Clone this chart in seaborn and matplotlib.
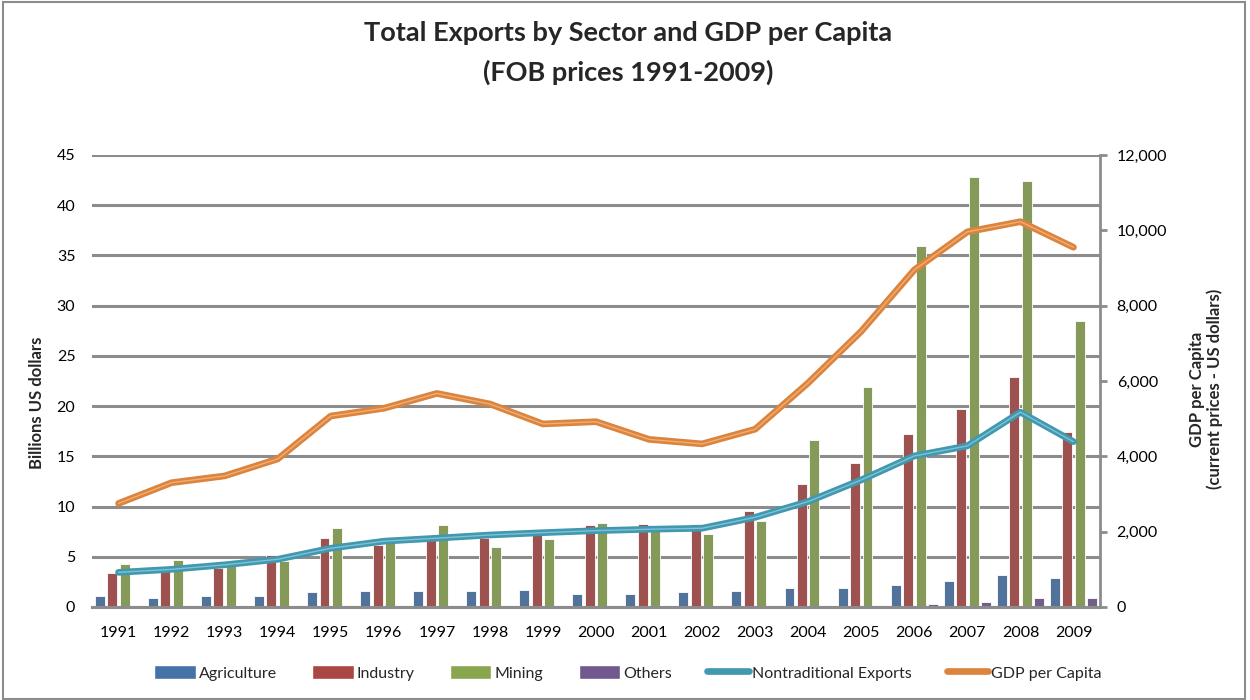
import numpy as np
import pandas as pd
import matplotlib
matplotlib.use("Agg")
import matplotlib.pyplot as plt
import matplotlib.patheffects as pe
from matplotlib.patches import Patch, Rectangle
from matplotlib.lines import Line2D
from matplotlib.ticker import StrMethodFormatter, MultipleLocator
import seaborn as sns

years = [str(y) for y in range(1991, 2010)]
agriculture = [1.1, 0.87, 1.1, 1.1, 1.45, 1.6, 1.6, 1.6, 1.72, 1.3, 1.3, 1.45,
               1.6, 1.86, 1.86, 2.16, 2.6, 3.16, 2.86]
industry = [3.43, 4.0, 3.9, 5.15, 6.85, 6.2, 7.05, 6.85, 7.25, 8.15, 8.3, 8.3,
            9.6, 12.2, 14.35, 17.2, 19.75, 22.9, 17.45]
mining = [4.3, 4.7, 4.1, 4.6, 7.87, 7.0, 8.15, 6.0, 6.74, 8.33, 7.7, 7.3,
          8.6, 16.6, 21.9, 35.95, 42.8, 42.4, 28.5]
others = [0.05, 0.05, 0.05, 0.05, 0.05, 0.05, 0.05, 0.05, 0.05, 0.05, 0.05, 0.05,
          0.05, 0.05, 0.05, 0.3, 0.47, 0.87, 0.87]
nontraditional = [3.45, 3.75, 4.2, 4.75, 5.85, 6.55, 6.85, 7.17, 7.4, 7.6, 7.74, 7.84,
                  8.93, 10.5, 12.65, 15.04, 16.04, 19.4, 16.46]
gdp_per_capita = [2750, 3300, 3480, 3930, 5070, 5275, 5670, 5390, 4860, 4920, 4450, 4330,
                  4720, 5950, 7320, 8950, 9960, 10230, 9550]

sectors = ["Agriculture", "Industry", "Mining", "Others"]
bar_colors = ["#4572A7", "#AA4643", "#89A54E", "#71588F"]
teal, orange = "#4198AF", "#DB843D"

df = pd.DataFrame({
    "Year": years * 4,
    "Sector": sum([[s] * len(years) for s in sectors], []),
    "Value": agriculture + industry + mining + others,
})

sns.set_style("white")
plt.rcParams["font.family"] = ["Lato", "DejaVu Sans"]

fig = plt.figure(figsize=(12.5, 7), dpi=100)
W, H = 1250, 700
L, R, T, B = 92, 1100, 155, 607
ax = fig.add_axes([L / W, 1 - B / H, (R - L) / W, (B - T) / H])

sns.barplot(data=df, x="Year", y="Value", hue="Sector", order=years, hue_order=sectors,
            palette=bar_colors, width=0.94, gap=0.2, edgecolor="white", linewidth=0.6,
            ax=ax, legend=False, zorder=2)

idx = np.arange(len(years))
sns.lineplot(x=idx, y=nontraditional, ax=ax, color=teal, linewidth=4.8, zorder=3,
             solid_capstyle="round", solid_joinstyle="round",
             path_effects=[pe.Stroke(linewidth=4.8, foreground=teal),
                           pe.Stroke(linewidth=1.0, foreground="#7cc3d6")])

ax2 = ax.twinx()
sns.lineplot(x=idx, y=gdp_per_capita, ax=ax2, color=orange, linewidth=4.8,
             solid_capstyle="round", solid_joinstyle="round",
             path_effects=[pe.Stroke(linewidth=4.8, foreground=orange),
                           pe.Stroke(linewidth=1.0, foreground="#f2ad74")])

ax.set_xlim(-0.5, len(years) - 0.5)
ax.set_ylim(0, 45)
ax.yaxis.set_major_locator(MultipleLocator(5))
ax2.set_ylim(0, 12000)
ax2.yaxis.set_major_locator(MultipleLocator(2000))
ax2.yaxis.set_major_formatter(StrMethodFormatter("{x:,.0f}"))

grid_c = "#8c8c8c"
ax.set_axisbelow(True)
ax.yaxis.grid(True, color=grid_c, linewidth=2.2)
ax.xaxis.grid(False)
ax2.grid(False)

for a in (ax, ax2):
    for s in ("top", "left", "right", "bottom"):
        a.spines[s].set_visible(False)
ax.spines["bottom"].set_visible(True)
ax.spines["bottom"].set_color(grid_c)
ax.spines["bottom"].set_linewidth(2.2)
ax2.spines["right"].set_visible(True)
ax2.spines["right"].set_color(grid_c)
ax2.spines["right"].set_linewidth(2.0)

ax.tick_params(axis="y", length=0, pad=12, labelsize=11.5, labelcolor="black")
ax.tick_params(axis="x", length=0, pad=14, labelsize=11.5, labelcolor="black")
ax2.tick_params(axis="y", length=5, width=2, color=grid_c, pad=7, labelsize=11.5,
                labelcolor="black", direction="out")

ax.set_xlabel("")
ax.set_ylabel("Billions US dollars", fontsize=12, weight="bold")
ax.yaxis.set_label_coords((45 - L) / (R - L), (B - 403) / (B - T))
ax2.set_ylabel("")
fig.text(1206 / W, 1 - 389 / H, "GDP per Capita\n(current prices - US dollars)",
         rotation=90, ha="center", va="center", multialignment="center",
         fontsize=12, weight="bold", linespacing=1.1)

fig.text(628 / W, 1 - 33 / H, "Total Exports by Sector and GDP per Capita",
         ha="center", va="center", fontsize=19.5, weight="bold")
fig.text(628 / W, 1 - 72 / H, "(FOB prices 1991-2009)",
         ha="center", va="center", fontsize=19.5, weight="bold")

handles = [Patch(facecolor=c, edgecolor="white") for c in bar_colors]
handles += [Line2D([], [], color=teal, linewidth=4.8, solid_capstyle="round"),
            Line2D([], [], color=orange, linewidth=4.8, solid_capstyle="round")]
labels = sectors + ["Nontraditional Exports", "GDP per Capita"]
fig.legend(handles, labels, ncol=6, loc="center", bbox_to_anchor=(628 / W, 1 - 673 / H),
           frameon=False, fontsize=11.5, handlelength=2.6, handleheight=1.0,
           handletextpad=0.2, columnspacing=2.2)

fig.add_artist(Rectangle((3 / W, 1 / H), 1242 / W, 697 / H, transform=fig.transFigure,
                         fill=False, edgecolor=grid_c, linewidth=1.5))

fig.savefig("out.png", dpi=100)
